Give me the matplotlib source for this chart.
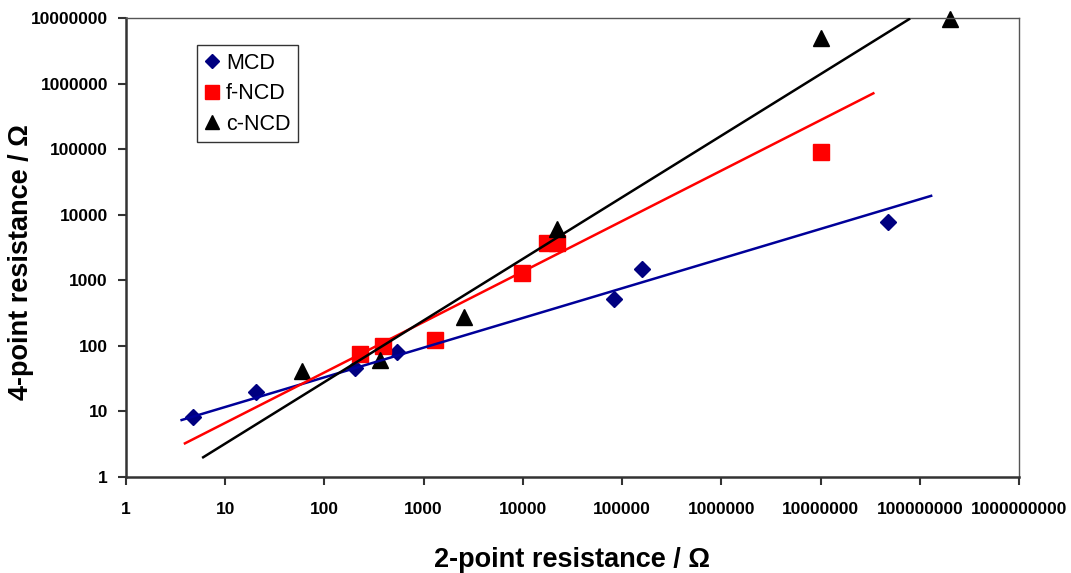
import numpy as np
import matplotlib
matplotlib.use("Agg")
from matplotlib import pyplot as plt
from matplotlib import ticker

plt.rcParams['font.family'] = ['Liberation Sans', 'DejaVu Sans']

# measured points: 2-point resistance (x) vs 4-point resistance (y), ohm
mcd_x = [4.7, 20.5, 203, 535, 82000, 160000, 48000000]
mcd_y = [8.3, 20, 46, 81, 510, 1480, 7800]

fncd_x = [229, 390, 1300, 9900, 17500, 21900, 10000000]
fncd_y = [74, 99, 122, 1270, 3720, 3720, 91000]

cncd_x = [60, 363, 2570, 21900, 10000000, 200000000]
cncd_y = [42, 61, 278, 5970, 4900000, 9600000]

# power-law trendlines, start and end points
mcd_fit_x = [3.64, 130000000]
mcd_fit_y = [7.4, 19400]
fncd_fit_x = [3.93, 34000000]
fncd_fit_y = [3.26, 710000]
cncd_fit_x = [6.0, 78000000]
cncd_fit_y = [2.0, 9600000]

x_ticks = [10.0 ** k for k in range(0, 10)]
y_ticks = [10.0 ** k for k in range(0, 8)]

fig = plt.figure(figsize=(10.71, 5.73), dpi=100)
ax = fig.add_axes([0.1176, 0.1675, 0.8339, 0.8011])
ax.set_xscale('log')
ax.set_yscale('log')
ax.set_xlim(1, 1e9)
ax.set_ylim(1, 1e7)

ax.plot(mcd_x, mcd_y, 'D', color='#000080', ms=8, ls='none', label='MCD',
        clip_on=False, zorder=2)
ax.plot(fncd_x, fncd_y, 's', color='#ff0000', ms=11.3, ls='none', label='f-NCD',
        clip_on=False, zorder=2)
ax.plot(cncd_x, cncd_y, '^', color='black', ms=11.5, ls='none', label='c-NCD',
        clip_on=False, zorder=2)

ax.plot(mcd_fit_x, mcd_fit_y, color='#000099', lw=1.8, zorder=3)
ax.plot(fncd_fit_x, fncd_fit_y, color='#ff0000', lw=1.8, zorder=3)
ax.plot(cncd_fit_x, cncd_fit_y, color='black', lw=1.8, zorder=3)

ax.xaxis.set_major_locator(ticker.FixedLocator(x_ticks))
ax.yaxis.set_major_locator(ticker.FixedLocator(y_ticks))
ax.xaxis.set_minor_locator(ticker.NullLocator())
ax.yaxis.set_minor_locator(ticker.NullLocator())
fmt = ticker.FuncFormatter(lambda v, p: f"{v:.0f}")
ax.xaxis.set_major_formatter(fmt)
ax.yaxis.set_major_formatter(fmt)

for lab in ax.get_xticklabels() + ax.get_yticklabels():
    lab.set_fontweight('bold')
ax.tick_params(axis='x', direction='out', length=6, width=1.5, pad=12,
               labelsize=12.5, color='#333333')
ax.tick_params(axis='y', direction='out', length=6, width=1.5, pad=7,
               labelsize=12.5, color='#333333')

ax.spines['left'].set_linewidth(1.8)
ax.spines['bottom'].set_linewidth(1.8)
ax.spines['left'].set_color('#333333')
ax.spines['bottom'].set_color('#333333')
ax.spines['top'].set_linewidth(1.0)
ax.spines['right'].set_linewidth(1.0)
ax.spines['top'].set_color('#555555')
ax.spines['right'].set_color('#555555')

ax.set_xlabel('2-point resistance / Ω', fontsize=19.5, fontweight='bold')
ax.set_ylabel('4-point resistance / Ω', fontsize=19.5, fontweight='bold')
ax.xaxis.set_label_coords(0.499, -0.152)
ax.yaxis.set_label_coords(-0.103, 0.468)

leg = ax.legend(loc='upper left', bbox_to_anchor=(0.0795, 0.941), borderaxespad=0,
                fontsize=15.5, frameon=True, fancybox=False, edgecolor='black',
                handlelength=0.7, handletextpad=0.3, labelspacing=0.44,
                borderpad=0.35, markerscale=0.9)
leg.get_frame().set_linewidth(1.0)

plt.savefig('out.png', dpi=100)
